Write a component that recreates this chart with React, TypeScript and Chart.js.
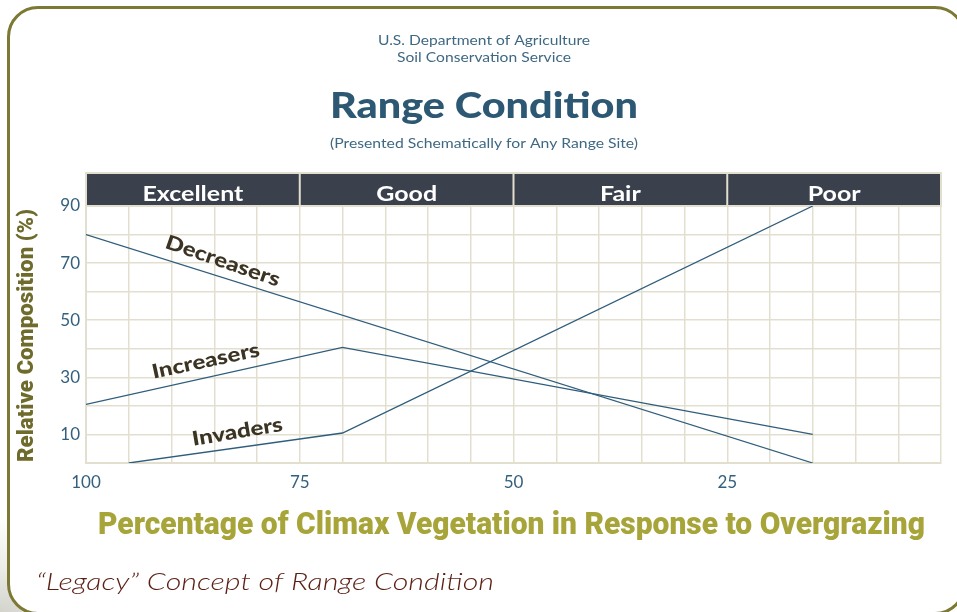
import React, { useEffect, useRef } from 'react';
import { Chart, registerables } from 'chart.js';

Chart.register(...registerables);

// ---- data ----
const conditionClasses = ['Excellent', 'Good', 'Fair', 'Poor'];
const conditionBounds = [100, 75, 50, 25, 0];
const xTickLabels = [100, 75, 50, 25];
const yTickLabels = [10, 30, 50, 70, 90];

const decreasersX = [100, 15];
const decreasersY = [80, 0];
const increasersX = [100, 70, 15];
const increasersY = [20.5, 40.5, 10];
const invadersX = [95, 70, 15];
const invadersY = [0, 10.5, 90];

const seriesNames = ['Decreasers', 'Increasers', 'Invaders'];
const labelAnchorX = [84, 86, 82.3];
const labelAnchorY = [70.7, 35.7, 10.9];
const labelAngles = [19, -12, -9.5];

const headerLines = ['U.S. Department of Agriculture', 'Soil Conservation Service'];
const mainTitle = 'Range Condition';
const subTitle = '(Presented Schematically for Any Range Site)';
const yTitle = 'Relative Composition (%)';
const xTitle = 'Percentage of Climax Vegetation in Response to Overgrazing';
const caption = '\u201cLegacy\u201d Concept of Range Condition';

// ---- style ----
const gridColor = '#e3dfcf';
const lineColor = '#2f5d7c';
const headerFill = '#3a404c';
const tickColor = '#33607e';

function toPoints(xs: number[], ys: number[]) {
  return xs.map((x, i) => ({ x, y: ys[i] }));
}

function fitText(ctx: CanvasRenderingContext2D, text: string, x: number, y: number, width: number, align: CanvasTextAlign) {
  const w = ctx.measureText(text).width || 1;
  const s = width / w;
  ctx.save();
  ctx.translate(x, y);
  ctx.scale(s, 1);
  ctx.textAlign = align;
  ctx.fillText(text, 0, 0);
  ctx.restore();
}

const decorPlugin = {
  id: 'decor',
  beforeDatasetsDraw(chart: any) {
    const ctx: CanvasRenderingContext2D = chart.ctx;
    const { left, right, top } = chart.chartArea;
    const xs = chart.scales.x;
    const hTop = top - 33;
    ctx.save();
    ctx.fillStyle = headerFill;
    ctx.fillRect(left, hTop, right - left, top - hTop);
    ctx.strokeStyle = gridColor;
    ctx.lineWidth = 2;
    ctx.strokeRect(left, hTop, right - left, top - hTop);
    for (let i = 1; i < conditionBounds.length - 1; i++) {
      const px = xs.getPixelForValue(conditionBounds[i]);
      ctx.beginPath();
      ctx.moveTo(px, hTop);
      ctx.lineTo(px, top);
      ctx.stroke();
    }
    ctx.fillStyle = '#ffffff';
    ctx.font = 'bold 21px Lato, "Open Sans", sans-serif';
    ctx.textBaseline = 'alphabetic';
    const ref = ctx.measureText(conditionClasses[0]).width || 1;
    const s = 101 / ref;
    conditionClasses.forEach((name, i) => {
      const cx = (xs.getPixelForValue(conditionBounds[i]) + xs.getPixelForValue(conditionBounds[i + 1])) / 2;
      ctx.save();
      ctx.translate(cx, top - 5.5);
      ctx.scale(s, 1);
      ctx.textAlign = 'center';
      ctx.fillText(name, 0, 0);
      ctx.restore();
    });
    ctx.restore();
  },
  afterDraw(chart: any) {
    const ctx: CanvasRenderingContext2D = chart.ctx;
    const xs = chart.scales.x;
    const ys = chart.scales.y;
    ctx.save();
    ctx.textBaseline = 'alphabetic';

    // top texts
    ctx.fillStyle = '#3f6883';
    ctx.font = '14px Lato, "Open Sans", sans-serif';
    fitText(ctx, headerLines[0], 484, 45, 212, 'center');
    fitText(ctx, headerLines[1], 484, 62, 174, 'center');
    ctx.fillStyle = '#2d5874';
    ctx.font = '900 36px Lato, "Open Sans", sans-serif';
    fitText(ctx, mainTitle, 484, 118, 308, 'center');
    ctx.fillStyle = '#3f6883';
    ctx.font = '14px Lato, "Open Sans", sans-serif';
    fitText(ctx, subTitle, 484, 148, 308, 'center');

    // series labels
    ctx.fillStyle = '#3b3323';
    ctx.font = '900 20px Lato, "Open Sans", sans-serif';
    ctx.textBaseline = 'middle';
    const ref = ctx.measureText(seriesNames[0]).width || 1;
    const s = 120 / ref;
    seriesNames.forEach((name, i) => {
      const px = xs.getPixelForValue(labelAnchorX[i]);
      const py = ys.getPixelForValue(labelAnchorY[i]);
      ctx.save();
      ctx.translate(px, py);
      ctx.rotate((labelAngles[i] * Math.PI) / 180);
      ctx.scale(s, 1);
      ctx.textAlign = 'center';
      ctx.fillText(name, 0, 0);
      ctx.restore();
    });

    // axis titles
    ctx.textBaseline = 'alphabetic';
    ctx.fillStyle = '#6e6b2c';
    ctx.font = '900 22px Roboto, "DejaVu Sans", sans-serif';
    ctx.save();
    ctx.translate(33, (ys.top + ys.bottom) / 2 + 1);
    ctx.rotate(-Math.PI / 2);
    fitText(ctx, yTitle, 0, 0, 253, 'center');
    ctx.restore();

    ctx.fillStyle = '#a7a53a';
    ctx.font = '900 32px Roboto, "DejaVu Sans", sans-serif';
    fitText(ctx, xTitle, 511.5, 534, 827, 'center');

    // caption
    ctx.fillStyle = '#5b1e13';
    ctx.font = 'italic 300 24px Lato, "Open Sans", sans-serif';
    fitText(ctx, caption, 36, 590, 458, 'left');
    ctx.restore();
  },
};

export default function App() {
  const ref = useRef<HTMLCanvasElement | null>(null);
  useEffect(() => {
    if (!ref.current) return;
    const chart = new Chart(ref.current, {
      type: 'line',
      data: {
        datasets: [
          { label: seriesNames[0], data: toPoints(decreasersX, decreasersY) },
          { label: seriesNames[1], data: toPoints(increasersX, increasersY) },
          { label: seriesNames[2], data: toPoints(invadersX, invadersY) },
        ].map((d) => ({
          ...d,
          borderColor: lineColor,
          borderWidth: 1.3,
          pointRadius: 0,
          tension: 0,
          fill: false,
        })),
      },
      options: {
        responsive: false,
        animation: false,
        devicePixelRatio: 1,
        layout: { padding: { left: 36, right: 16, top: 206, bottom: 109 } },
        plugins: { legend: { display: false }, tooltip: { enabled: false }, title: { display: false } },
        scales: {
          x: {
            type: 'linear',
            reverse: true,
            min: 0,
            max: 100,
            afterFit: (scale: any) => {
              scale.height = 40;
            },
            ticks: {
              stepSize: 5,
              autoSkip: false,
              maxRotation: 0,
              padding: 9,
              color: tickColor,
              font: { family: 'Lato, "Open Sans", sans-serif', size: 17 },
              callback: (v: any) => (xTickLabels.includes(Number(v)) ? String(v) : ''),
            },
            grid: { color: gridColor, lineWidth: 1.5, drawTicks: false },
            border: { color: gridColor, width: 2 },
          },
          y: {
            type: 'linear',
            min: 0,
            max: 90,
            afterFit: (scale: any) => {
              scale.width = 50;
            },
            ticks: {
              stepSize: 10,
              autoSkip: false,
              padding: 6,
              color: tickColor,
              font: { family: 'Lato, "Open Sans", sans-serif', size: 17 },
              callback: (v: any) => (yTickLabels.includes(Number(v)) ? String(v) : ''),
            },
            grid: { color: gridColor, lineWidth: 1.5, drawTicks: false },
            border: { color: gridColor, width: 2 },
          },
        },
      },
      plugins: [decorPlugin],
    } as any);
    return () => chart.destroy();
  }, []);

  return (
    <div
      style={{
        position: 'fixed',
        left: 0,
        top: 0,
        width: 957,
        height: 612,
        overflow: 'hidden',
        background: 'radial-gradient(ellipse at 0% 100%, #d4d4cd 0px, #ecece8 70px, #ffffff 150px)',
      }}
    >
      <div
        style={{
          position: 'absolute',
          left: 7,
          top: 6,
          width: 959,
          height: 609,
          boxSizing: 'border-box',
          border: '3px solid #7b7934',
          borderRadius: 31,
          background: '#ffffff',
        }}
      />
      <canvas ref={ref} width={957} height={612} style={{ position: 'absolute', left: 0, top: 0 }} />
    </div>
  );
}
